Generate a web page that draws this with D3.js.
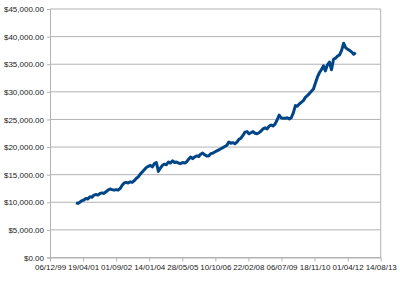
<!DOCTYPE html>
<html>
<head>
<meta charset="utf-8">
<script src="https://cdn.jsdelivr.net/npm/d3@7"></script>
<style>
  html, body { margin: 0; padding: 0; background: #fff; }
  svg { display: block; }
  text { font-family: "Liberation Sans", Arial, sans-serif; font-size: 8px; fill: #222; }
</style>
</head>
<body>
<script>
// ---- data ----
const seriesStart = "2001-01-01";   // first monthly observation
const values = [
  9900, 9800, 10000, 10300, 10400, 10700, 10600, 11000, 10900, 11300, 11400, 11300,
  11600, 11700, 11600, 11900, 12200, 12400, 12300, 12200, 12300, 12200, 12500, 13100,
  13500, 13600, 13500, 13700, 13600, 13900, 14300, 14600, 15100, 15500, 15900, 16300,
  16500, 16700, 16400, 17000, 17200, 15600, 16200, 16700, 16900, 16800, 17300, 17100,
  17500, 17200, 17300, 17100, 17000, 17200, 17100, 17300, 17800, 18200, 17900, 18200,
  18400, 18300, 18700, 18900, 18600, 18400, 18400, 18800, 18900, 19100, 19300, 19500,
  19700, 19900, 20100, 20300, 20900, 20700, 20800, 20600, 20900, 21400, 21600, 22100,
  22700, 22800, 22400, 22600, 22800, 22500, 22400, 22600, 22900, 23300, 23500, 23300,
  23800, 24000, 23800, 24200, 24900, 25800, 25300, 25200, 25200, 25300, 25100, 25300,
  26200, 27500, 27400, 27800, 28100, 28400, 29000, 29300, 29700, 30100, 30500, 31600,
  32700, 33500, 34000, 34700, 33800, 34900, 35400, 34000, 35900, 36100, 36500, 36700,
  37500, 38800, 38000, 37700, 37500, 37200, 36800, 37100
];
const xTickLabels = ["06/12/99", "19/04/01", "01/09/02", "14/01/04", "28/05/05", "10/10/06",
                     "22/02/08", "06/07/09", "18/11/10", "01/04/12", "14/08/13"];
const yTicks = [0, 5000, 10000, 15000, 20000, 25000, 30000, 35000, 40000, 45000];

// ---- build ----
const parseTick = d3.utcParse("%d/%m/%y");
const xTickDates = xTickLabels.map(parseTick);
const start = d3.utcParse("%Y-%m-%d")(seriesStart);
const data = values.map((v, i) => ({ date: d3.utcMonth.offset(start, i), value: v }));

const W = 400, H = 282;
const m = { left: 50, right: 19.3, top: 9, bottom: 24.5 };

const svg = d3.select("body").append("svg").attr("width", W).attr("height", H);

const x = d3.scaleUtc()
  .domain([xTickDates[0], xTickDates[xTickDates.length - 1]])
  .range([m.left, W - m.right]);
const y = d3.scaleLinear()
  .domain([0, 45000])
  .range([H - m.bottom, m.top]);

// gridlines
svg.append("g").selectAll("line").data(yTicks).join("line")
  .attr("x1", m.left).attr("x2", W - m.right)
  .attr("y1", d => y(d)).attr("y2", d => y(d))
  .attr("stroke", "#b3b3b3").attr("stroke-width", 1);

// right border
svg.append("line")
  .attr("x1", W - m.right).attr("x2", W - m.right)
  .attr("y1", m.top).attr("y2", H - m.bottom)
  .attr("stroke", "#b3b3b3").attr("stroke-width", 1);

// y axis
const fmtY = v => "$" + d3.format(",.2f")(v);
const yAxis = svg.append("g").attr("transform", `translate(${m.left},0)`)
  .call(d3.axisLeft(y).tickValues(yTicks).tickFormat(fmtY).tickSize(3).tickPadding(3));
yAxis.selectAll("path,line").attr("stroke", "#b3b3b3");
yAxis.selectAll("text").attr("font-size", 8).attr("font-family", null).attr("fill", "#222");

// x axis
const xAxis = svg.append("g").attr("transform", `translate(0,${H - m.bottom})`)
  .call(d3.axisBottom(x).tickValues(xTickDates).tickFormat((d, i) => xTickLabels[i]).tickSize(4).tickPadding(3).tickSizeOuter(0));
xAxis.selectAll("path,line").attr("stroke", "#b3b3b3");
xAxis.selectAll("text").attr("font-size", 8).attr("font-family", null).attr("fill", "#222");

// line
svg.append("path")
  .datum(data)
  .attr("fill", "none")
  .attr("stroke", "#004586")
  .attr("stroke-width", 3)
  .attr("stroke-linejoin", "round")
  .attr("d", d3.line().x(d => x(d.date)).y(d => y(d.value)));
</script>
</body>
</html>
